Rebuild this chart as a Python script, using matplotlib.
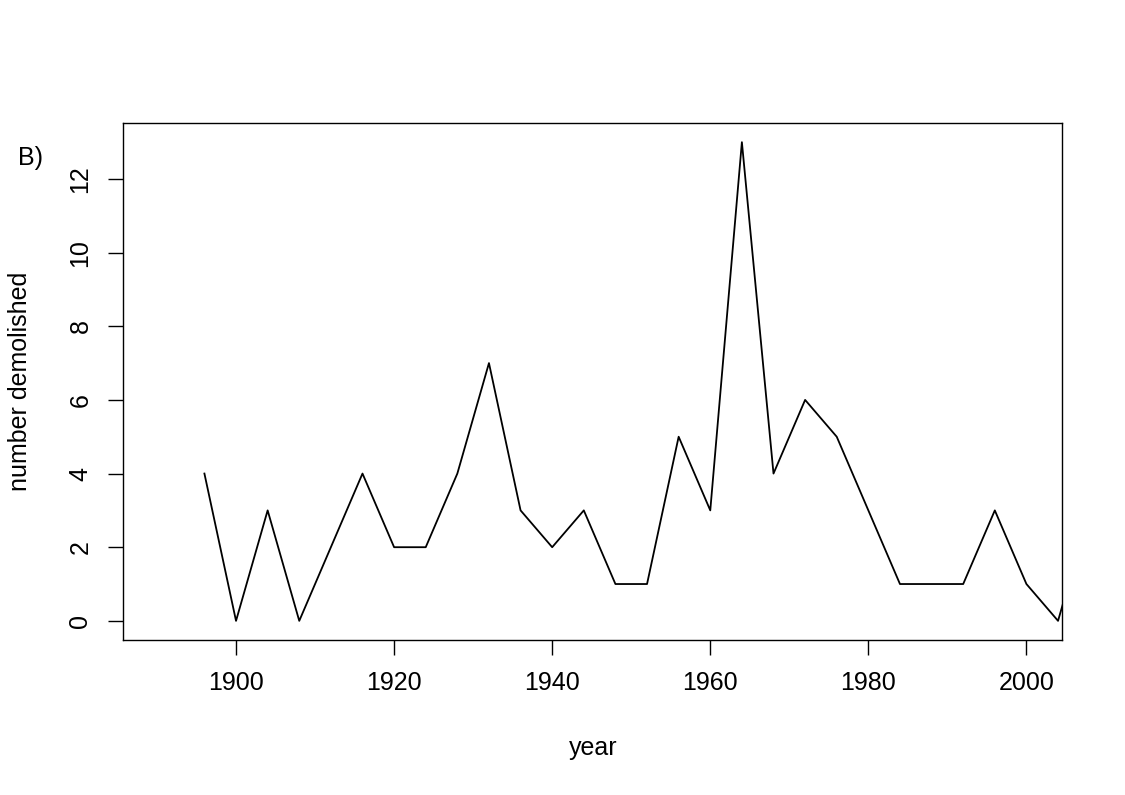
import matplotlib
matplotlib.use("Agg")
import matplotlib.pyplot as plt

years = [1896, 1900, 1904, 1908, 1912, 1916, 1920, 1924, 1928, 1932,
         1936, 1940, 1944, 1948, 1952, 1956, 1960, 1964, 1968, 1972,
         1976, 1980, 1984, 1988, 1992, 1996, 2000, 2004, 2008]
demolished = [4, 0, 3, 0, 2, 4, 2, 2, 4, 7,
              3, 2, 3, 1, 1, 5, 3, 13, 4, 6,
              5, 3, 1, 1, 1, 3, 1, 0, 3]

xticks = [1900, 1920, 1940, 1960, 1980, 2000]
yticks = [0, 2, 4, 6, 8, 10, 12]

plt.rcParams['font.family'] = ['Liberation Sans', 'DejaVu Sans']

fig = plt.figure(figsize=(11.25, 7.95), dpi=100)
ax = fig.add_axes([123 / 1125, 1 - 640 / 795, (1062 - 123) / 1125, (640 - 123) / 795])

ax.plot(years, demolished, color='black', linewidth=1.3)

ax.set_xlim(1885.7, 2004.5)
ax.set_ylim(-0.52, 13.52)
ax.set_xticks(xticks)
ax.set_yticks(yticks)
ax.set_yticklabels([str(v) for v in yticks], rotation=90, va='center')
ax.tick_params(direction='out', length=11, width=1, labelsize=18, pad=11)
for s in ax.spines.values():
    s.set_linewidth(1)

fig.text(593 / 1125, 1 - 748 / 795, 'year', fontsize=18, ha='center', va='center')
fig.text(20 / 1125, 1 - 381 / 795, 'number demolished', fontsize=18,
         rotation=90, ha='center', va='center')

fig.text(30 / 1125, 1 - 158 / 795, 'B)', fontsize=18, ha='center', va='center')

fig.savefig('out.png', dpi=100)
